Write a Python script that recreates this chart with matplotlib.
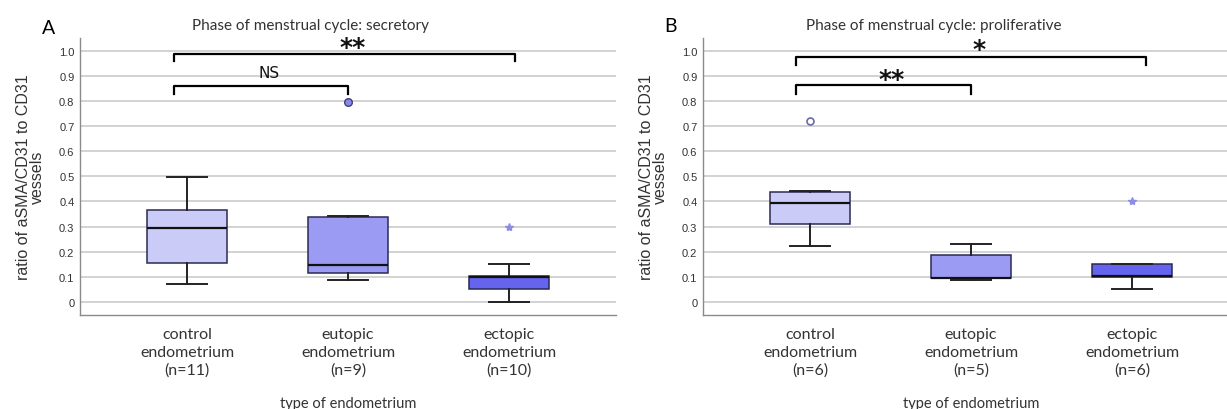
''' aSMA/CD31 ratio box plots by menstrual phase '''
import matplotlib
matplotlib.use('Agg')
import matplotlib.pyplot as plt

categories = ['control\nendometrium\n(n=11)', 'eutopic\nendometrium\n(n=9)', 'ectopic\nendometrium\n(n=10)']
categories_b = ['control\nendometrium\n(n=6)', 'eutopic\nendometrium\n(n=5)', 'ectopic\nendometrium\n(n=6)']

# secretory phase (panel A)
sec_whislo = [0.072, 0.087, 0.0]
sec_q1 = [0.156, 0.113, 0.052]
sec_med = [0.295, 0.145, 0.100]
sec_q3 = [0.367, 0.336, 0.103]
sec_whishi = [0.496, 0.343, 0.151]
sec_circle = [[], [0.795], []]
sec_star = [[], [], [0.30]]

# proliferative phase (panel B)
pro_whislo = [0.223, 0.087, 0.051]
pro_q1 = [0.310, 0.093, 0.100]
pro_med = [0.392, 0.094, 0.101]
pro_q3 = [0.438, 0.188, 0.149]
pro_whishi = [0.440, 0.230, 0.152]
pro_circle = [[0.72], [], []]
pro_star = [[], [], [0.40]]

yticks = [0, 0.1, 0.2, 0.3, 0.4, 0.5, 0.6, 0.7, 0.8, 0.9, 1.0]
ytick_labels = ['0', '0.1', '0.2', '0.3', '0.4', '0.5', '0.6', '0.7', '0.8', '0.9', '1.0']

box_colors = ['#cbcbf7', '#9b9bf3', '#6464ef']
FONT = 'Lato'


def panel(ax, whislo, q1, med, q3, whishi, circles, stars, labels, title, open_circle=False):
    stats = []
    for i in range(3):
        stats.append({'whislo': whislo[i], 'q1': q1[i], 'med': med[i], 'q3': q3[i],
                      'whishi': whishi[i], 'fliers': []})
    pos = [0, 1, 2]
    for y in yticks:
        ax.axhline(y, color='#cfcfcf', lw=1.3, zorder=0)
    art = ax.bxp(stats, positions=pos, widths=0.5, patch_artist=True, showfliers=False,
                 boxprops=dict(edgecolor='#2a2a55', lw=1.1),
                 whiskerprops=dict(color='#222222', lw=1.4),
                 capprops=dict(color='#222222', lw=1.4),
                 medianprops=dict(color='#111111', lw=1.6),
                 capwidths=0.25)
    for b, c in zip(art['boxes'], box_colors):
        b.set_facecolor(c)
    for i in range(3):
        for v in circles[i]:
            if open_circle:
                ax.plot(pos[i], v, 'o', ms=5, mfc='white', mec='#6a6aa8', mew=1.2)
            else:
                ax.plot(pos[i], v, 'o', ms=5.5, mfc='#8a8ae6', mec='#40407a', mew=1.0)
        for v in stars[i]:
            ax.plot(pos[i], v, '*', ms=6, color='#8c8ce6')
    ax.set_xlim(-0.665, 2.665)
    ax.set_ylim(-0.053, 1.052)
    ax.set_yticks(yticks)
    ax.set_yticklabels(ytick_labels, fontsize=8, color='#333333', family='Liberation Sans')
    ax.tick_params(axis='y', length=0, pad=4)
    ax.set_xticks(pos)
    ax.set_xticklabels(labels, fontsize=11.5, color='#333333', family=FONT, linespacing=1.3)
    ax.tick_params(axis='x', length=0, pad=9)
    for s in ['top', 'right']:
        ax.spines[s].set_visible(False)
    for s in ['left', 'bottom']:
        ax.spines[s].set_color('#8a8a8a')
        ax.spines[s].set_linewidth(1.0)
    ax.set_ylabel('ratio of aSMA/CD31 to CD31\nvessels', fontsize=11.5, color='#333333',
                  family='Liberation Sans', linespacing=0.95, labelpad=10)
    ax.set_xlabel('type of endometrium', fontsize=10.5, color='#333333', family=FONT, labelpad=14)
    ax.text(0.43, 1.02, title, transform=ax.transAxes, ha='center', va='bottom',
            fontsize=11, color='#333333', family=FONT)


def bracket(ax, x0, x1, ytop, ybot, label, ylab, size):
    ax.plot([x0, x0, x1, x1], [ybot, ytop, ytop, ybot], color='black', lw=1.6, clip_on=False)
    ax.text((x0 + x1) / 2 + 0.05, ylab, label, ha='center', va='center', fontsize=size,
            fontweight='bold' if size > 12 else 'normal', family='DejaVu Sans', color='#111111')


fig = plt.figure(figsize=(12.27, 4.10), dpi=100)
axA = fig.add_axes([80 / 1227, 94 / 410, 536 / 1227, 277 / 410])
axB = fig.add_axes([703 / 1227, 94 / 410, 536 / 1227, 277 / 410])

panel(axA, sec_whislo, sec_q1, sec_med, sec_q3, sec_whishi, sec_circle, sec_star,
      categories, 'Phase of menstrual cycle: secretory')
panel(axB, pro_whislo, pro_q1, pro_med, pro_q3, pro_whishi, pro_circle, pro_star,
      categories_b, 'Phase of menstrual cycle: proliferative', open_circle=True)

bracket(axA, -0.08, 2.04, 0.989, 0.959, '**', 1.015, 18)
bracket(axA, -0.08, 1.0, 0.860, 0.827, 'NS', 0.913, 11)
bracket(axB, -0.09, 2.09, 0.977, 0.943, '*', 1.01, 18)
bracket(axB, -0.09, 1.0, 0.864, 0.830, '**', 0.890, 18)

fig.text(49 / 1227, 1 - 28 / 410, 'A', fontsize=14, family=FONT, ha='center', va='center')
fig.text(671 / 1227, 1 - 26 / 410, 'B', fontsize=14, family=FONT, ha='center', va='center')

fig.savefig('out.png', dpi=100)
